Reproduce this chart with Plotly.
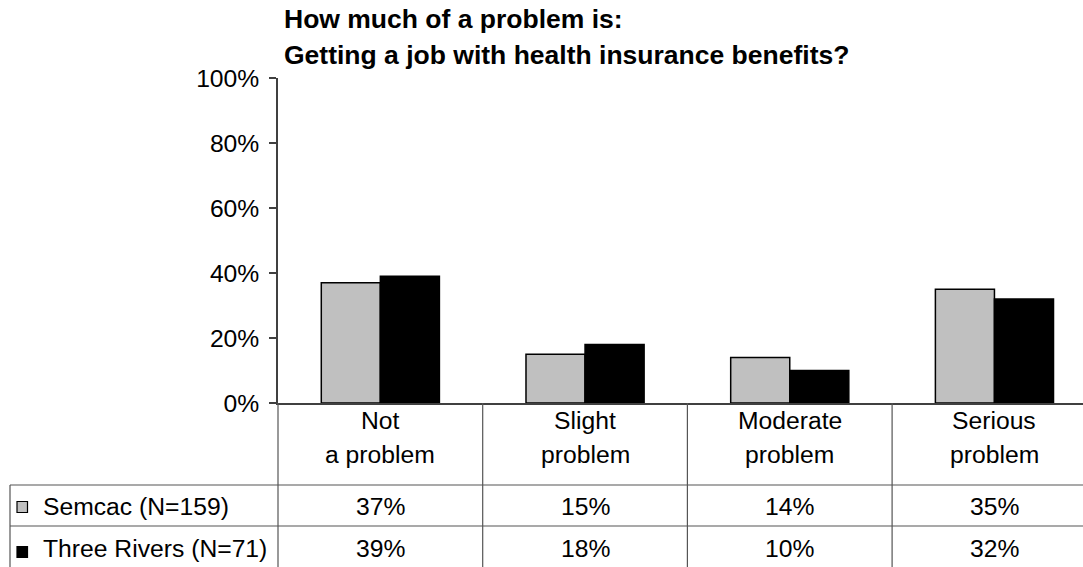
import plotly.graph_objects as go

categories = ["Not\na problem", "Slight\nproblem", "Moderate\nproblem", "Serious\nproblem"]
series_names = ["Semcac (N=159)", "Three Rivers (N=71)"]
semcac = [37, 15, 14, 35]
three_rivers = [39, 18, 10, 32]
y_ticks = [0, 20, 40, 60, 80, 100]
title_lines = ["How much of a problem is:", "Getting a job with health insurance benefits?"]

W, H = 1083, 567
FONT = "Liberation Sans, Arial, sans-serif"
LINE = "#404040"
TLINE = "#555555"
FS = 24.7

def py(pix):
    return 1 - pix / H

def px(pix):
    return pix / W

x0 = 278
y_zero, y_full = 403, 78
col_w = 204.7
visible = (W - x0) / col_w

cat_keys = [c.replace("\n", " ") for c in categories]
fills = ["#C0C0C0", "#000000"]
values = [semcac, three_rivers]

fig = go.Figure()
for name, vals, col in zip(series_names, values, fills):
    fig.add_trace(go.Bar(x=cat_keys, y=vals, name=name,
                         marker=dict(color=col, line=dict(color="#000000", width=1.5))))

fig.update_layout(
    width=W, height=H, margin=dict(l=0, r=0, t=0, b=0, pad=0), autosize=False,
    paper_bgcolor="white", plot_bgcolor="white",
    barmode="group", bargap=0.423, bargroupgap=0,
    showlegend=False,
    font=dict(family=FONT, size=FS, color="#000"),
    xaxis=dict(domain=[px(x0), 1], range=[-0.5, -0.5 + visible], showticklabels=False, automargin=False,
               showline=True, linecolor=LINE, linewidth=2, ticks="", showgrid=False, zeroline=False),
    yaxis=dict(domain=[py(y_zero), py(y_full)], range=[0, 100], tickvals=y_ticks, automargin=False,
               ticktext=[f"{v}%" for v in y_ticks], ticks="outside", ticklen=7, tickcolor=LINE,
               tickwidth=1.5,
               showline=True, linecolor=LINE, linewidth=1.5, showgrid=False, zeroline=False,
               tickfont=dict(size=FS), ticklabelstandoff=5),
)

anns = []
for i, (t, ty) in enumerate(zip(title_lines, [19, 55])):
    anns.append(dict(text="<b>" + t + "</b>", xref="paper", yref="paper",
                     x=px(282), y=py(ty), xanchor="left", yanchor="middle", showarrow=False,
                     font=dict(size=26.5)))
for k, cat in zip(cat_keys, categories):
    l1, l2 = cat.split("\n")
    anns.append(dict(text=l1, xref="x", yref="paper", x=k, y=py(420), yanchor="middle", showarrow=False))
    anns.append(dict(text=l2, xref="x", yref="paper", x=k, y=py(454), yanchor="middle", showarrow=False))
row_y = [506, 548.5]
for r, (name, vals) in enumerate(zip(series_names, values)):
    anns.append(dict(text=name, xref="paper", yref="paper", x=px(41), y=py(row_y[r]), xanchor="left",
                     yanchor="middle", showarrow=False))
    for k, v in zip(cat_keys, vals):
        anns.append(dict(text=f"{v}%", xref="x", yref="paper", x=k, y=py(row_y[r]), yanchor="middle",
                         showarrow=False))
fig.update_layout(annotations=anns)

shapes = []
# table lines
shapes.append(dict(type="line", xref="paper", yref="paper", x0=px(x0), x1=px(x0), y0=py(y_zero), y1=0,
                   line=dict(color=TLINE, width=1.2)))
for b in [0.5, 1.5, 2.5]:
    shapes.append(dict(type="line", xref="x", yref="paper", x0=b, x1=b, y0=py(y_zero), y1=0,
                       line=dict(color=TLINE, width=1.2)))
for hy in [485, 526]:
    shapes.append(dict(type="line", xref="paper", yref="paper", x0=px(10), x1=1, y0=py(hy), y1=py(hy),
                       line=dict(color=TLINE, width=1.2)))
shapes.append(dict(type="line", xref="paper", yref="paper", x0=px(10), x1=px(10), y0=py(485), y1=0,
                   line=dict(color=TLINE, width=1.2)))
# legend keys
key_y = [507, 552]
for r, col in enumerate(fills):
    shapes.append(dict(type="rect", xref="paper", yref="paper", x0=px(17), x1=px(27.5),
                       y0=py(key_y[r] - 5.5), y1=py(key_y[r] + 5.5), fillcolor=col,
                       line=dict(color="#000", width=1.2)))
fig.update_layout(shapes=shapes)

fig.write_html("out.html")
